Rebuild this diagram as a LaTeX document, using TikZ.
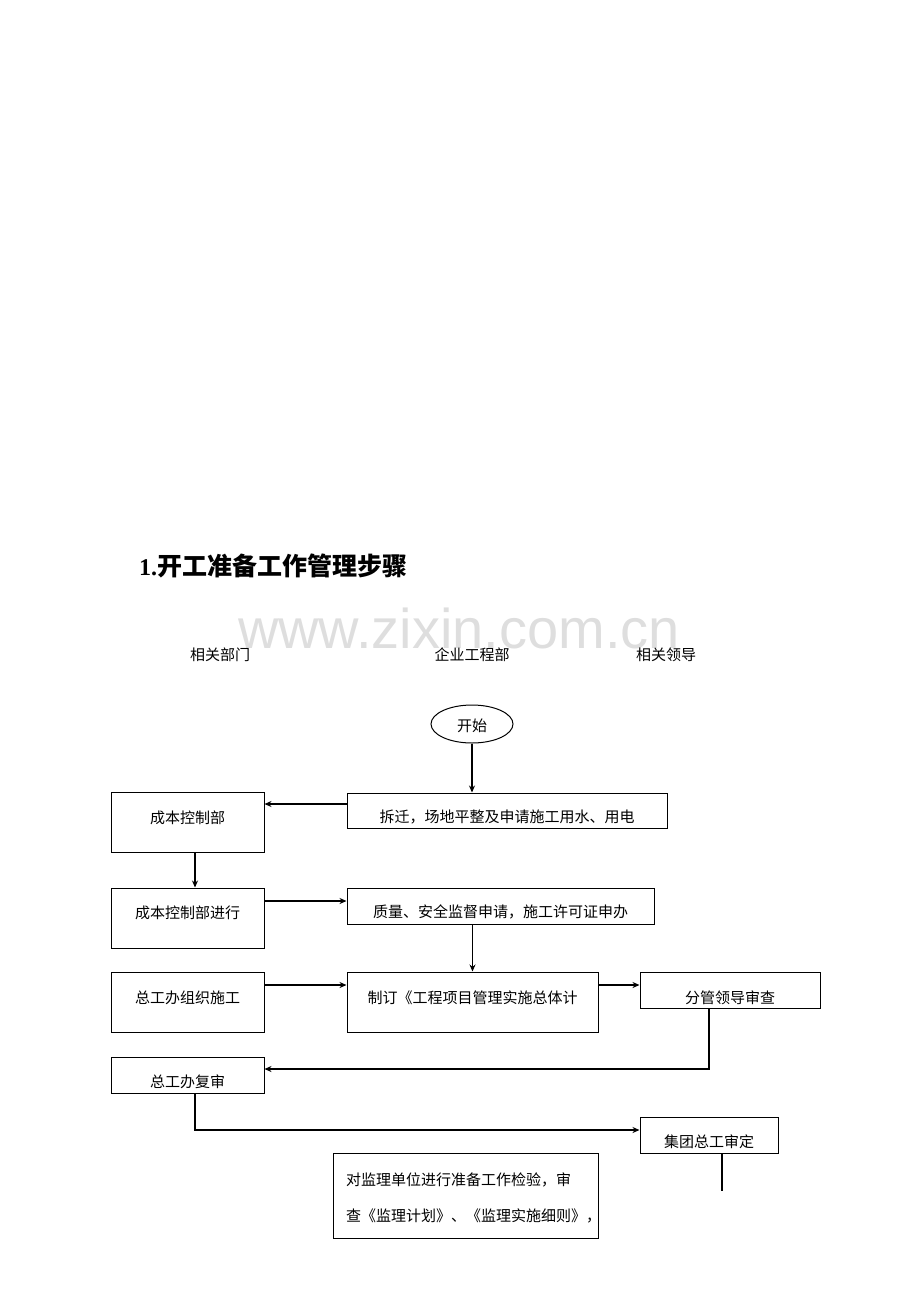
\documentclass[tikz,border=0pt]{standalone}
\usepackage{fontspec}
\setmainfont{Liberation Serif}
\setsansfont{Liberation Sans}
\newfontfamily\cjk{Noto Sans CJK SC}
\usetikzlibrary{arrows.meta,shapes.geometric,calc}
\begin{document}
\begin{tikzpicture}[x=1pt,y=-1pt,
  box/.style={draw,line width=1pt,rectangle,inner sep=0pt},
  txt/.style={font=\cjk\fontsize{15}{18}\selectfont,inner sep=0pt},
  ln/.style={line width=1.1pt},
  arr/.style={ln,-{Stealth[length=7pt,width=6pt]}}]
\path[use as bounding box] (0,0) rectangle (920,1302);
% watermark
\node[font=\sffamily\fontsize{56}{60}\selectfont,text=black!13] (wm) at (459,628) {www.zixin.com.cn};
% title
\node[anchor=west,inner sep=0pt] (title) at (139,566) {\fontsize{24}{28}\selectfont\bfseries 1.{\cjk\fontsize{25}{28}\selectfont\bfseries 开工准备工作管理步骤}};
% headers
\node[txt] (h1) at (220,655) {相关部门};
\node[txt] (h2) at (472,655) {企业工程部};
\node[txt] (h3) at (666,655) {相关领导};
% nodes
\node[draw,line width=1pt,ellipse,minimum width=82pt,minimum height=38pt,inner sep=0pt] (start) at (472,724) {};
\node[txt] (startt) at (472,726) {开始};
\node[box,minimum width=320pt,minimum height=35pt] (chai) at (507,810.5) {};
\node[txt] (chait) at (507,817) {拆迁，场地平整及申请施工用水、用电};
\node[box,minimum width=153pt,minimum height=60pt] (cb) at (187.5,822) {};
\node[txt] (cbt) at (187.5,818) {成本控制部};
\node[box,minimum width=153pt,minimum height=60pt] (cbj) at (187.5,918) {};
\node[txt] (cbjt) at (187.5,913) {成本控制部进行};
\node[box,minimum width=307pt,minimum height=36pt] (zl) at (500.5,906) {};
\node[txt] (zlt) at (500.5,912) {质量、安全监督申请，施工许可证申办};
\node[box,minimum width=153pt,minimum height=60pt] (zg) at (187.5,1002) {};
\node[txt] (zgt) at (187.5,998) {总工办组织施工};
\node[box,minimum width=251pt,minimum height=60pt] (zd) at (472.5,1002) {};
\node[txt] (zdt) at (472.5,998) {制订《工程项目管理实施总体计};
\node[box,minimum width=180pt,minimum height=36pt] (fg) at (730,990) {};
\node[txt] (fgt) at (730,998) {分管领导审查};
\node[box,minimum width=153pt,minimum height=36pt] (fs) at (187.5,1075) {};
\node[txt] (fst) at (187.5,1082) {总工办复审};
\node[box,minimum width=138pt,minimum height=36pt] (jt) at (709,1135) {};
\node[txt] (jtt) at (709,1142) {集团总工审定};
\node[box,minimum width=265pt,minimum height=85pt] (dj) at (465.5,1195.5) {};
\node[txt,anchor=west] (djt1) at (346,1180) {对监理单位进行准备工作检验，审};
\node[txt,anchor=west] (djt2) at (346,1216) {查《监理计划》、《监理实施细则》，};
% connectors
\draw[arr] (start.south) -- (chai.north -| start.south);
\draw[arr] ([yshift=6.5pt]chai.west) -- ([yshift=6.5pt]chai.west -| cb.east);
\draw[arr] ([xshift=7.5pt]cb.south) -- ([xshift=7.5pt]cbj.north);
\draw[arr] ([yshift=17pt]cbj.east) -- ([yshift=17pt]cbj.east -| zl.west);
\draw[arr] (zd.north |- zl.south) -- (zd.north);
\draw[arr] ([yshift=17pt]zg.east) -- ([yshift=17pt]zg.east -| zd.west);
\draw[arr] ([yshift=17pt]zd.east) -- ([yshift=17pt]zd.east -| fg.west);
\draw[arr] ([xshift=-21pt]fg.south) |- ([yshift=6pt]fs.east);
\draw[arr] ([xshift=7.5pt]fs.south) |- ([yshift=5pt]jt.west);
\coordinate (jtend) at ([xshift=13pt,yshift=-37pt]jt.south);
\draw[ln] ([xshift=13pt]jt.south) -- (jtend);
\end{tikzpicture}
\end{document}
